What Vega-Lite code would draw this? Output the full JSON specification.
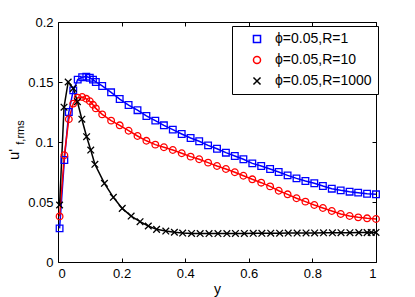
{
  "$schema": "https://vega.github.io/schema/vega-lite/v6.json",
  "width": 318,
  "height": 240,
  "autosize": "none",
  "padding": {"left": 58, "top": 22, "right": 39, "bottom": 35},
  "background": "#ffffff",
  "datasets": {
    "curves": [
      {"s": "ϕ=0.05,R=1", "x": 0.005, "u": 0.028}, {"s": "ϕ=0.05,R=1", "x": 0.02, "u": 0.085}, {"s": "ϕ=0.05,R=1", "x": 0.034, "u": 0.125}, {"s": "ϕ=0.05,R=1", "x": 0.048, "u": 0.143}, {"s": "ϕ=0.05,R=1", "x": 0.062, "u": 0.152}, {"s": "ϕ=0.05,R=1", "x": 0.076, "u": 0.154}, {"s": "ϕ=0.05,R=1", "x": 0.089, "u": 0.1545}, {"s": "ϕ=0.05,R=1", "x": 0.1, "u": 0.1535}, {"s": "ϕ=0.05,R=1", "x": 0.11, "u": 0.152}, {"s": "ϕ=0.05,R=1", "x": 0.119, "u": 0.150},
      {"s": "ϕ=0.05,R=1", "x": 0.139, "u": 0.1467}, {"s": "ϕ=0.05,R=1", "x": 0.167, "u": 0.1414}, {"s": "ϕ=0.05,R=1", "x": 0.194, "u": 0.1358}, {"s": "ϕ=0.05,R=1", "x": 0.222, "u": 0.1308}, {"s": "ϕ=0.05,R=1", "x": 0.25, "u": 0.1265}, {"s": "ϕ=0.05,R=1", "x": 0.278, "u": 0.1217}, {"s": "ϕ=0.05,R=1", "x": 0.306, "u": 0.1178}, {"s": "ϕ=0.05,R=1", "x": 0.333, "u": 0.1139}, {"s": "ϕ=0.05,R=1", "x": 0.361, "u": 0.1103}, {"s": "ϕ=0.05,R=1", "x": 0.389, "u": 0.1067}, {"s": "ϕ=0.05,R=1", "x": 0.417, "u": 0.1033}, {"s": "ϕ=0.05,R=1", "x": 0.444, "u": 0.1006}, {"s": "ϕ=0.05,R=1", "x": 0.472, "u": 0.0972}, {"s": "ϕ=0.05,R=1", "x": 0.5, "u": 0.0944}, {"s": "ϕ=0.05,R=1", "x": 0.528, "u": 0.0911}, {"s": "ϕ=0.05,R=1", "x": 0.556, "u": 0.0883}, {"s": "ϕ=0.05,R=1", "x": 0.583, "u": 0.0856}, {"s": "ϕ=0.05,R=1", "x": 0.611, "u": 0.0822}, {"s": "ϕ=0.05,R=1", "x": 0.639, "u": 0.0800}, {"s": "ϕ=0.05,R=1", "x": 0.667, "u": 0.0775}, {"s": "ϕ=0.05,R=1", "x": 0.694, "u": 0.0750}, {"s": "ϕ=0.05,R=1", "x": 0.722, "u": 0.0722}, {"s": "ϕ=0.05,R=1", "x": 0.75, "u": 0.0697}, {"s": "ϕ=0.05,R=1", "x": 0.778, "u": 0.0675}, {"s": "ϕ=0.05,R=1", "x": 0.806, "u": 0.0656}, {"s": "ϕ=0.05,R=1", "x": 0.833, "u": 0.0633}, {"s": "ϕ=0.05,R=1", "x": 0.861, "u": 0.0611}, {"s": "ϕ=0.05,R=1", "x": 0.889, "u": 0.0597}, {"s": "ϕ=0.05,R=1", "x": 0.917, "u": 0.0586}, {"s": "ϕ=0.05,R=1", "x": 0.944, "u": 0.0578}, {"s": "ϕ=0.05,R=1", "x": 0.972, "u": 0.0569}, {"s": "ϕ=0.05,R=1", "x": 1.0, "u": 0.0564},

      {"s": "ϕ=0.05,R=10", "x": 0.005, "u": 0.038}, {"s": "ϕ=0.05,R=10", "x": 0.02, "u": 0.089}, {"s": "ϕ=0.05,R=10", "x": 0.034, "u": 0.119}, {"s": "ϕ=0.05,R=10", "x": 0.048, "u": 0.132}, {"s": "ϕ=0.05,R=10", "x": 0.062, "u": 0.137}, {"s": "ϕ=0.05,R=10", "x": 0.076, "u": 0.1375}, {"s": "ϕ=0.05,R=10", "x": 0.089, "u": 0.136}, {"s": "ϕ=0.05,R=10", "x": 0.1, "u": 0.134}, {"s": "ϕ=0.05,R=10", "x": 0.11, "u": 0.131}, {"s": "ϕ=0.05,R=10", "x": 0.119, "u": 0.128},
      {"s": "ϕ=0.05,R=10", "x": 0.139, "u": 0.123}, {"s": "ϕ=0.05,R=10", "x": 0.167, "u": 0.1178}, {"s": "ϕ=0.05,R=10", "x": 0.194, "u": 0.1139}, {"s": "ϕ=0.05,R=10", "x": 0.222, "u": 0.1094}, {"s": "ϕ=0.05,R=10", "x": 0.25, "u": 0.105}, {"s": "ϕ=0.05,R=10", "x": 0.278, "u": 0.1010}, {"s": "ϕ=0.05,R=10", "x": 0.306, "u": 0.0978}, {"s": "ϕ=0.05,R=10", "x": 0.333, "u": 0.0956}, {"s": "ϕ=0.05,R=10", "x": 0.361, "u": 0.0933}, {"s": "ϕ=0.05,R=10", "x": 0.389, "u": 0.0906}, {"s": "ϕ=0.05,R=10", "x": 0.417, "u": 0.0878}, {"s": "ϕ=0.05,R=10", "x": 0.444, "u": 0.0856}, {"s": "ϕ=0.05,R=10", "x": 0.472, "u": 0.0828}, {"s": "ϕ=0.05,R=10", "x": 0.5, "u": 0.0800}, {"s": "ϕ=0.05,R=10", "x": 0.528, "u": 0.0775}, {"s": "ϕ=0.05,R=10", "x": 0.556, "u": 0.0748}, {"s": "ϕ=0.05,R=10", "x": 0.583, "u": 0.0719}, {"s": "ϕ=0.05,R=10", "x": 0.611, "u": 0.0689}, {"s": "ϕ=0.05,R=10", "x": 0.639, "u": 0.0661}, {"s": "ϕ=0.05,R=10", "x": 0.667, "u": 0.0630}, {"s": "ϕ=0.05,R=10", "x": 0.694, "u": 0.0594}, {"s": "ϕ=0.05,R=10", "x": 0.722, "u": 0.0564}, {"s": "ϕ=0.05,R=10", "x": 0.75, "u": 0.0531}, {"s": "ϕ=0.05,R=10", "x": 0.778, "u": 0.0503}, {"s": "ϕ=0.05,R=10", "x": 0.806, "u": 0.0475}, {"s": "ϕ=0.05,R=10", "x": 0.833, "u": 0.0450}, {"s": "ϕ=0.05,R=10", "x": 0.861, "u": 0.0425}, {"s": "ϕ=0.05,R=10", "x": 0.889, "u": 0.0400}, {"s": "ϕ=0.05,R=10", "x": 0.917, "u": 0.0383}, {"s": "ϕ=0.05,R=10", "x": 0.944, "u": 0.0372}, {"s": "ϕ=0.05,R=10", "x": 0.972, "u": 0.0364}, {"s": "ϕ=0.05,R=10", "x": 1.0, "u": 0.0358},

      {"s": "ϕ=0.05,R=1000", "x": 0.005, "u": 0.0475}, {"s": "ϕ=0.05,R=1000", "x": 0.019, "u": 0.129}, {"s": "ϕ=0.05,R=1000", "x": 0.032, "u": 0.150}, {"s": "ϕ=0.05,R=1000", "x": 0.048, "u": 0.1447}, {"s": "ϕ=0.05,R=1000", "x": 0.061, "u": 0.1336}, {"s": "ϕ=0.05,R=1000", "x": 0.075, "u": 0.119}, {"s": "ϕ=0.05,R=1000", "x": 0.09, "u": 0.1044}, {"s": "ϕ=0.05,R=1000", "x": 0.103, "u": 0.0933}, {"s": "ϕ=0.05,R=1000", "x": 0.116, "u": 0.0814},
      {"s": "ϕ=0.05,R=1000", "x": 0.146, "u": 0.0656}, {"s": "ϕ=0.05,R=1000", "x": 0.174, "u": 0.0539}, {"s": "ϕ=0.05,R=1000", "x": 0.202, "u": 0.0447}, {"s": "ϕ=0.05,R=1000", "x": 0.23, "u": 0.0383}, {"s": "ϕ=0.05,R=1000", "x": 0.258, "u": 0.0336}, {"s": "ϕ=0.05,R=1000", "x": 0.284, "u": 0.0300}, {"s": "ϕ=0.05,R=1000", "x": 0.31, "u": 0.0272}, {"s": "ϕ=0.05,R=1000", "x": 0.339, "u": 0.0258}, {"s": "ϕ=0.05,R=1000", "x": 0.366, "u": 0.0248}, {"s": "ϕ=0.05,R=1000", "x": 0.392, "u": 0.0241}, {"s": "ϕ=0.05,R=1000", "x": 0.42, "u": 0.0238}, {"s": "ϕ=0.05,R=1000", "x": 0.447, "u": 0.0237}, {"s": "ϕ=0.05,R=1000", "x": 0.475, "u": 0.0237}, {"s": "ϕ=0.05,R=1000", "x": 0.503, "u": 0.0237}, {"s": "ϕ=0.05,R=1000", "x": 0.531, "u": 0.0237}, {"s": "ϕ=0.05,R=1000", "x": 0.558, "u": 0.0238}, {"s": "ϕ=0.05,R=1000", "x": 0.586, "u": 0.0238}, {"s": "ϕ=0.05,R=1000", "x": 0.614, "u": 0.0239}, {"s": "ϕ=0.05,R=1000", "x": 0.641, "u": 0.0239}, {"s": "ϕ=0.05,R=1000", "x": 0.669, "u": 0.0240}, {"s": "ϕ=0.05,R=1000", "x": 0.697, "u": 0.0240}, {"s": "ϕ=0.05,R=1000", "x": 0.724, "u": 0.0241}, {"s": "ϕ=0.05,R=1000", "x": 0.752, "u": 0.0241}, {"s": "ϕ=0.05,R=1000", "x": 0.78, "u": 0.0242}, {"s": "ϕ=0.05,R=1000", "x": 0.807, "u": 0.0242}, {"s": "ϕ=0.05,R=1000", "x": 0.835, "u": 0.0243}, {"s": "ϕ=0.05,R=1000", "x": 0.863, "u": 0.0243}, {"s": "ϕ=0.05,R=1000", "x": 0.89, "u": 0.0244}, {"s": "ϕ=0.05,R=1000", "x": 0.918, "u": 0.0244}, {"s": "ϕ=0.05,R=1000", "x": 0.946, "u": 0.0245}, {"s": "ϕ=0.05,R=1000", "x": 0.972, "u": 0.0245}, {"s": "ϕ=0.05,R=1000", "x": 0.985, "u": 0.0246}, {"s": "ϕ=0.05,R=1000", "x": 1.0, "u": 0.0246}
    ],
    "empty": []
  },
  "config": {
    "font": "Liberation Sans",
    "view": {"stroke": "#000000", "strokeWidth": 1},
    "axis": {
      "grid": false,
      "domain": false,
      "tickColor": "#000000",
      "tickSize": -4,
      "tickWidth": 1,
      "labelColor": "#000000",
      "labelFont": "Liberation Sans",
      "labelFontSize": 13,
      "labelPadding": 9,
      "titleColor": "#000000",
      "titleFont": "Liberation Sans",
      "titleFontWeight": "normal",
      "titleFontSize": 14
    },
    "legend": {
      "labelFont": "Liberation Sans",
      "labelFontSize": 14,
      "labelColor": "#000000"
    }
  },
  "resolve": {"axis": {"x": "independent", "y": "independent"}},
  "layer": [
    {
      "data": {"name": "curves"},
      "mark": {"type": "line", "strokeWidth": 1.5},
      "encoding": {
        "x": {"field": "x", "type": "quantitative", "scale": {"domain": [0, 1], "nice": false},
              "axis": {"orient": "bottom", "values": [0, 0.2, 0.4, 0.6, 0.8, 1], "format": "~g", "title": "y", "titlePadding": 2}},
        "y": {"field": "u", "type": "quantitative", "scale": {"domain": [0, 0.2], "nice": false, "zero": false},
              "axis": {"orient": "left", "values": [0, 0.05, 0.1, 0.15, 0.2], "format": "~g", "title": "u'", "titleAngle": -90, "titleX": -45, "titleY": 132, "titleAlign": "center", "titleBaseline": "middle", "titleFontSize": 15}},
        "color": {"field": "s", "type": "nominal", "scale": {"domain": ["ϕ=0.05,R=1", "ϕ=0.05,R=10", "ϕ=0.05,R=1000"], "range": ["#0000ff", "#ff0000", "#000000"]},
          "legend": {
            "title": null, "orient": "none", "legendX": 174, "legendY": 4,
            "strokeColor": "#000000", "fillColor": "#ffffff", "padding": 6, "cornerRadius": 0,
            "symbolSize": 50, "symbolStrokeWidth": 1.5, "rowPadding": 7, "labelOffset": 11, "symbolOffset": 12
          }},
        "detail": {"field": "s"}
      }
    },
    {
      "data": {"name": "curves"},
      "mark": {"type": "point", "filled": false, "strokeWidth": 1.3, "size": 44, "opacity": 1},
      "encoding": {
        "x": {"field": "x", "type": "quantitative",
              "axis": {"orient": "top", "values": [0, 0.2, 0.4, 0.6, 0.8, 1], "labels": false, "title": null}},
        "y": {"field": "u", "type": "quantitative",
              "axis": {"orient": "right", "values": [0, 0.05, 0.1, 0.15, 0.2], "labels": false, "title": null}},
        "color": {"field": "s", "type": "nominal"},
        "shape": {"field": "s", "type": "nominal", "scale": {"domain": ["ϕ=0.05,R=1", "ϕ=0.05,R=10", "ϕ=0.05,R=1000"], "range": ["square", "circle", "M-1,-1L1,1M-1,1L1,-1"]}, "legend": null}
      }
    },
    {
      "data": {"name": "empty"},
      "mark": {"type": "rule"},
      "encoding": {
        "y": {"field": "u", "type": "quantitative",
              "axis": {"orient": "left", "labels": false, "ticks": false, "domain": false, "title": "f,rms", "titleAngle": -90, "titleX": -38, "titleY": 110, "titleAlign": "center", "titleBaseline": "middle", "titleFontSize": 11}}
      }
    }
  ]
}
